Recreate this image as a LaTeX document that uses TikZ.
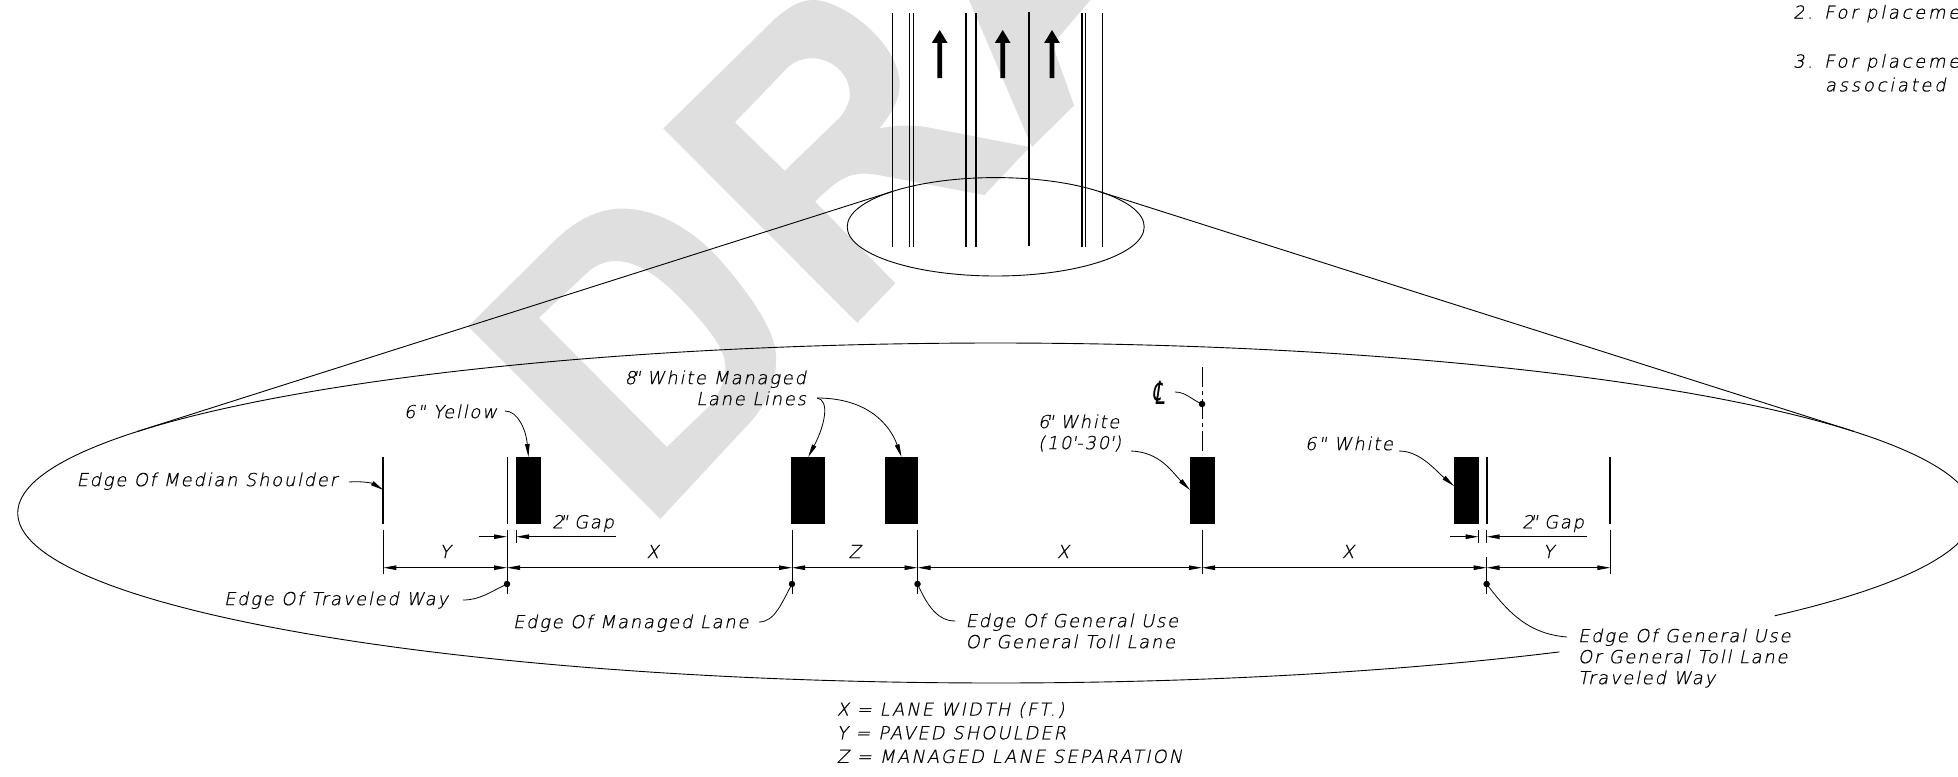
\documentclass[tikz,border=0pt]{standalone}
\usepackage{fontspec}
\usetikzlibrary{arrows.meta}
\newfontfamily\cad[FakeSlant=0.2,LetterSpace=9.5,FakeBold=0.6]{DejaVu Sans ExtraLight}
\newfontfamily\cadb[FakeSlant=0.2,LetterSpace=11,FakeBold=0.6]{DejaVu Sans ExtraLight}
\newfontfamily\cadc[FakeSlant=0.2,LetterSpace=15,FakeBold=0.6]{DejaVu Sans ExtraLight}
\newfontfamily\clfont[FakeSlant=0.15,FakeStretch=0.6]{DejaVu Sans}
\newcommand{\capstrut}{\rule{0pt}{13pt}}
\newcommand{\inch}{\kern-4pt"\kern-1pt}
\tikzset{
  x=1pt,y=-1pt,
  thinline/.style={line width=0.9pt,black},
  midline/.style={line width=1.5pt,black},
  thickline/.style={line width=2pt,black},
  stripe/.style={fill=black,draw=none,inner sep=0pt,outer sep=0pt,minimum height=67pt},
  dotm/.style={circle,fill=black,inner sep=0pt,outer sep=0pt,minimum size=6.5pt},
  lbl/.style={inner sep=0pt,outer sep=0pt,font=\cad\fontsize{18}{21}\selectfont,anchor=north west,black},
  leglbl/.style={lbl,font=\cadb\fontsize{18}{23.6}\selectfont},
  notelbl/.style={lbl,font=\cadc\fontsize{18}{23.6}\selectfont},
  leader/.style={line width=0.8pt,black},
  leadarrow/.style={leader,-{Triangle[length=13pt,width=4.5pt]}},
  dimline/.style={line width=0.9pt,black,{Triangle[length=13pt,width=4.5pt]}-{Triangle[length=13pt,width=4.5pt]}},
  gaparrow/.style={line width=0.9pt,black,-{Triangle[length=13pt,width=4.5pt]}},
  road/.style={fill=black,draw=none},
  watermark/.style={fill=black!12.5,draw=none,even odd rule}
}
\begin{document}
\begin{tikzpicture}
\useasboundingbox (0,0) rectangle (1958,776);
\fill[white] (0,0) rectangle (1958,776);
% watermark
\begin{scope}[shift={(440,0)},xscale=0.43367,yscale=0.33807]
\fill[watermark] (65,965) -- (270,705) .. controls (320,645) and (370,617) .. (420,617)
  .. controls (500,617) and (590,680) .. (660,790) .. controls (745,920) and (775,1000) .. (775,1060)
  .. controls (775,1130) and (755,1200) .. (700,1270) -- (508,1535) -- cycle
  (228,940) -- (345,800) .. controls (365,780) and (385,772) .. (405,772)
  .. controls (450,772) and (500,810) .. (560,890) .. controls (630,985) and (660,1040) .. (658,1090)
  .. controls (655,1140) and (640,1180) .. (610,1215) -- (523,1322) -- cycle;
\fill[watermark] (515,380) -- (745,90) .. controls (790,30) and (825,0) .. (860,0)
  .. controls (930,0) and (1060,130) .. (1060,250) .. controls (1060,290) and (1045,330) .. (1013,380)
  .. controls (1050,370) and (1090,368) .. (1130,378) -- (1360,435) -- (1255,577) -- (1020,520)
  .. controls (960,505) and (930,510) .. (865,597) -- (1050,838) -- (962,955) -- cycle
  (680,362) -- (805,195) .. controls (860,140) and (945,190) .. (945,280)
  .. controls (945,300) and (935,330) .. (920,350) -- (795,505) -- cycle;
\fill[watermark] (1220,0) -- (1365,435) -- (1462,312) -- (1412,131) -- (1500,0) -- cycle;
\end{scope}
% road
\foreach \px/\st in {892.7/thinline,909.3/thinline,913.7/midline,966/thickline,976/thickline,1082/midline,1085.7/thinline,1102.3/thinline}
  \draw[\st] (\px,13.3) -- (\px,247);
\draw[midline] (1029,12) -- (1029,246);
\foreach \ax in {939.7,1002.7,1052}
  \fill[road] (\ax-2.4,78) -- (\ax-2.4,43) -- (\ax-7.9,43) -- (\ax,30) -- (\ax+7.9,43) -- (\ax+2.4,43) -- (\ax+2.4,78) -- cycle;
% ellipses
\coordinate (tl1) at (892.9,191.3); \coordinate (tl2) at (137.5,431.4);
\coordinate (tr1) at (1098.5,191.3); \coordinate (tr2) at (1853.9,431.4);
\draw[thinline] (995.7,226.8) ellipse [x radius=148.5,y radius=49.2];
\draw[thinline] plot[domain=54.8:397.2,samples=300,smooth] ({995.7+978*cos(\x)},{513+170*sin(\x)});
\draw[thinline] (tl1) -- (tl2);
\draw[thinline] (tr1) -- (tr2);
% pavement stripes
\draw[thickline] (383.4,457) -- (383.4,523.5);
\coordinate (medEdge) at (383.4,490);
\draw[thinline] (507,457) -- (507,523.5);
\node[stripe,minimum width=25pt] (s1) at (528.5,490.5) {};
\node[stripe,minimum width=33.5pt] (s2) at (808.2,490.5) {};
\node[stripe,minimum width=33pt] (s3) at (901.5,490.5) {};
\node[stripe,minimum width=25pt] (s4) at (1202.5,490.5) {};
\node[stripe,minimum width=25pt] (s5) at (1466.5,490.5) {};
\draw[thickline] (1486.6,457) -- (1486.6,523.5);
\draw[thickline] (1610.4,457) -- (1610.4,523.5);
% extension lines
\foreach \ex/\eb in {383.4/574,507/594,516/543,792/594,917.5/594,1202/574,1478.6/543,1610.4/574}
  \draw[thinline] (\ex,530) -- (\ex,\eb);
\draw[thinline] (1486.6,530) -- (1486.6,543);
\draw[thinline] (1486.6,557) -- (1486.6,594);
% dimensions
\coordinate (d0) at (383.4,567.7); \coordinate (d1) at (507,567.7); \coordinate (d2) at (792,567.7);
\coordinate (d3) at (917.5,567.7); \coordinate (d4) at (1202,567.7); \coordinate (d5) at (1486.6,567.7);
\coordinate (d6) at (1610.4,567.7);
\draw[dimline] (d0) -- (d1);
\draw[dimline] (d1) -- (d2);
\draw[dimline] (d2) -- (d3);
\draw[dimline] (d3) -- (d4);
\draw[dimline] (d4) -- (d5);
\draw[dimline] (d5) -- (d6);
\coordinate (g1a) at (478.5,536.7); \coordinate (g1b) at (507,536.7);
\coordinate (g1c) at (615.5,536.7); \coordinate (g1d) at (516,536.7);
\coordinate (g2a) at (1450,536.7); \coordinate (g2b) at (1478.6,536.7);
\coordinate (g2c) at (1587,536.7); \coordinate (g2d) at (1486.6,536.7);
\draw[gaparrow] (g1a) -- (g1b);
\draw[gaparrow] (g1c) -- (g1d);
\draw[gaparrow] (g2a) -- (g2b);
\draw[gaparrow] (g2c) -- (g2d);
% centre line
\node[dotm] (clDot) at (1202,404) {};
\coordinate (clTop) at (1202,367); \coordinate (clBot) at (1202,455);
\draw[line width=0.8pt,dash pattern=on 20pt off 4pt on 4pt off 4pt] (clTop) -- (clBot);
% dots
\node[dotm] (dotA) at (507,584) {};
\node[dotm] (dotB) at (792,584) {};
\node[dotm] (dotC) at (917.5,584) {};
\node[dotm] (dotD) at (1486.6,584) {};
% dim letters
\node[lbl,anchor=north] (lY1) at (445,545) {\capstrut Y};
\node[lbl,anchor=north] (lX1) at (652.6,545) {\capstrut X};
\node[lbl,anchor=north] (lZ) at (854.6,545) {\capstrut Z};
\node[lbl,anchor=north] (lX2) at (1063,545) {\capstrut X};
\node[lbl,anchor=north] (lX3) at (1348,545) {\capstrut X};
\node[lbl,anchor=north] (lY2) at (1548.5,545) {\capstrut Y};
\node[lbl] (lGap1) at (552,515) {\capstrut 2\inch{} Gap};
\node[lbl] (lGap2) at (1522,515) {\capstrut 2\inch{} Gap};
% labels
\node[lbl] (lMed) at (76.6,472.5) {\capstrut Edge Of Median Shoulder};
\node[lbl] (lYel) at (404,404.5) {\capstrut 6" Yellow};
\node[lbl] (lTrav) at (224,591.5) {\capstrut Edge Of Traveled Way};
\node[lbl] (lMan) at (513,614.5) {\capstrut Edge Of Managed Lane};
\node[lbl,anchor=north east,align=right] (l8) at (806,370.5) {\capstrut 8\inch{} White Managed\\Lane Lines};
\node[lbl,font=\clfont\fontsize{32}{32}\selectfont,anchor=center] (lCL) at (1159,393) {℄};
\node[lbl,align=left] (l6a) at (1038,414.5) {\capstrut 6\inch{} White\\(10\textquotesingle-30\textquotesingle)};
\node[lbl] (l6b) at (1305,436.5) {\capstrut 6" White};
\node[lbl,align=left] (lGen1) at (965.6,613.5) {\capstrut Edge Of General Use\\Or General Toll Lane};
\node[lbl,align=left] (lGen2) at (1578,628.5) {\capstrut Edge Of General Use\\Or General Toll Lane\\Traveled Way};
\node[leglbl,align=left] (lLeg) at (836.7,702) {\capstrut X = LANE WIDTH (FT.)\\Y = PAVED SHOULDER\\Z = MANAGED LANE SEPARATION};
\node[notelbl] (lN2) at (1793,5) {\capstrut 2. For placeme};
\node[notelbl] (lN3) at (1793,54) {\capstrut 3. For placeme};
\node[notelbl] (lN3b) at (1825,77.7) {\capstrut associated};
% leaders
\coordinate (cMed) at (349,482); \coordinate (cYel) at (505,411); \coordinate (cTrav) at (463,600);
\coordinate (cMan) at (759,622); \coordinate (cEight) at (817,398); \coordinate (cCL) at (1175,392);
\coordinate (cSixA) at (1131,451); \coordinate (cSixB) at (1399,451); \coordinate (cGenA) at (955,621);
\coordinate (cGenB) at (1567,637); \coordinate (sixAEnd) at (1190,490); \coordinate (sixBEnd) at (1454,486);
\draw[leadarrow] (cMed) .. controls (361,481) and (372,483) .. (medEdge);
\draw[leadarrow] (cYel) .. controls (518,411) and (526,430) .. (s1.north);
\draw[leader] (cTrav) .. controls (480,600) and (490,592) .. (dotA.center);
\draw[leader] (cMan) .. controls (775,622) and (782,602) .. (dotB.center);
\draw[leadarrow] (cEight) .. controls (830,400) and (825,425) .. (s2.north);
\draw[leadarrow] (cEight) .. controls (868,398) and (890,425) .. (s3.north);
\draw[leader] (cCL) .. controls (1186,392) and (1192,400) .. (clDot.center);
\draw[leadarrow] (cSixA) .. controls (1160,452) and (1172,472) .. (sixAEnd);
\draw[leadarrow] (cSixB) .. controls (1420,451) and (1435,470) .. (sixBEnd);
\draw[leader] (cGenA) .. controls (935,621) and (925,600) .. (dotC.center);
\draw[leader] (cGenB) .. controls (1530,634) and (1510,615) .. (dotD.center);
\end{tikzpicture}
\end{document}
